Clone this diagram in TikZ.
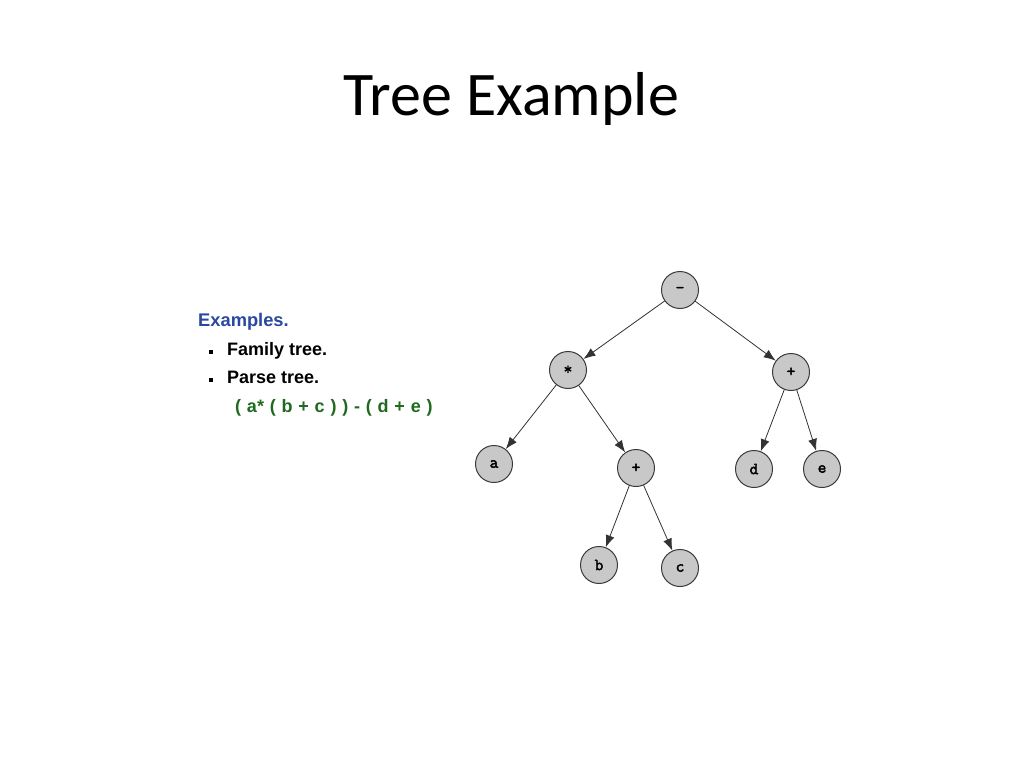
\documentclass[tikz,border=0pt]{standalone}
\usepackage{fontspec}
\setmainfont{Carlito}
\newfontfamily\arialf{Liberation Sans}
\newfontfamily\courb[FakeBold=2.5]{Latin Modern Mono}
\usetikzlibrary{arrows.meta}
\definecolor{nodegray}{HTML}{C8C8C8}
\definecolor{edgegray}{HTML}{3A3A3A}
\definecolor{exblue}{HTML}{2A48A0}
\definecolor{exgreen}{HTML}{1E6A1E}
\newcommand{\gsp}{\hspace{5.8pt}}
\begin{document}
\begin{tikzpicture}[x=1pt,y=-1pt,
  tnode/.style={circle,draw=edgegray,line width=1pt,fill=nodegray,minimum size=37pt,inner sep=0pt,font=\courb\fontsize{17}{17}\selectfont},
  edge/.style={draw=black!80,line width=0.8pt,-{Latex[length=12pt,width=9pt]}},
  txt/.style={anchor=base west,inner sep=0pt}
]
\useasboundingbox[fill=white] (0,0) rectangle (1024,768);
\node[anchor=base,inner sep=0pt,font=\fontsize{62}{62}\selectfont] (title) at (511,115) {Tree Example};

\node[txt,text=exblue,font=\arialf\bfseries\fontsize{18.3}{18.3}\selectfont] (ex) at (198,326) {Examples.};
\node[txt,font=\arialf\bfseries\fontsize{18}{18}\selectfont] (fam) at (227,355) {Family tree.};
\node[txt,font=\arialf\bfseries\fontsize{18}{18}\selectfont] (par) at (227,383) {Parse tree.};
\node[fill=black,minimum size=3.5pt,inner sep=0pt] (b1) at (211,352) {};
\node[fill=black,minimum size=3.5pt,inner sep=0pt] (b2) at (211,380) {};
\node[txt,text=exgreen,font=\arialf\bfseries\fontsize{18}{18}\selectfont] (expr) at (235,412) {(\gsp a*\gsp(\gsp b\gsp+\gsp c\gsp)\gsp)\gsp-\gsp(\gsp d\gsp+\gsp e\gsp)};

\node[tnode] (root) at (680,290) {-};
\node[tnode] (mul) at (568,370) {*};
\node[tnode] (plusR) at (791,372) {+};
\node[tnode] (a) at (494,464) {a};
\node[tnode] (plusM) at (636,468) {+};
\node[tnode] (d) at (754,469) {d};
\node[tnode] (e) at (822,469) {e};
\node[tnode] (b) at (599,565) {b};
\node[tnode] (c) at (680,568) {c};

\draw[edge] (root) -- (mul);
\draw[edge] (root) -- (plusR);
\draw[edge] (mul) -- (a);
\draw[edge] (mul) -- (plusM);
\draw[edge] (plusM) -- (b);
\draw[edge] (plusM) -- (c);
\draw[edge] (plusR) -- (d);
\draw[edge] (plusR) -- (e);
\end{tikzpicture}
\end{document}
